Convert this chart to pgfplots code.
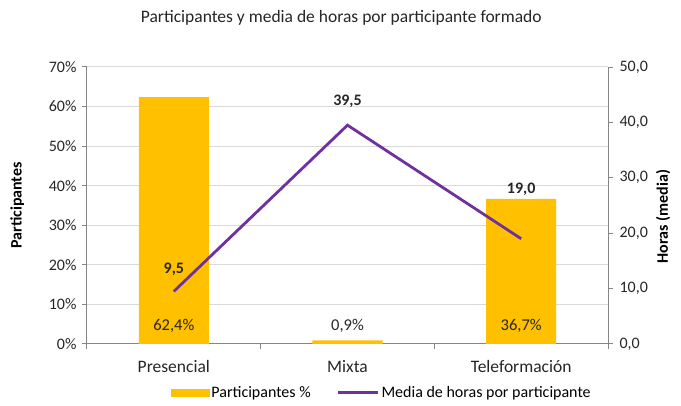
\documentclass[border=0pt]{standalone}
\usepackage{fontspec}
\setmainfont{Carlito}
\usepackage{pgfplots}
\pgfplotsset{compat=1.18}
\definecolor{barc}{RGB}{255,192,0}
\definecolor{linec}{RGB}{112,48,160}
\definecolor{axc}{RGB}{134,134,134}
\definecolor{gridc}{RGB}{217,217,217}
\begin{document}
\begin{tikzpicture}
\useasboundingbox (-87pt,-62pt) rectangle (594pt,344pt);
% left axis: participantes (%)
\begin{axis}[
    name=left,
    scale only axis, width=521pt, height=277pt,
    xmin=-0.5, xmax=2.5, ymin=0, ymax=70,
    axis x line*=bottom, axis y line*=left,
    axis line style={axc, line width=1pt},
    xtick={0,1,2}, xticklabels={Presencial,Mixta,Teleformación},
    major x tick style={draw=none},
    minor xtick={-0.5,0.5,1.5,2.5},
    minor x tick style={axc, line width=1pt},
    minor tick length=5pt,
    ytick={0,10,...,70},
    y tick style={axc, line width=1pt},
    major tick length=5pt,
    tick align=outside,
    ymajorgrids, grid style={gridc, line width=1pt},
    /pgf/number format/assume math mode=true,
    yticklabel={\pgfmathprintnumber{\tick}\%},
    yticklabel style={font=\fontsize{16}{17}\selectfont, text=black!85, xshift=-2pt},
    xticklabel style={font=\fontsize{17.5}{18}\selectfont, text=black!85, yshift=-8pt},
    ylabel={\textbf{Participantes}},
    ylabel style={at={(axis description cs:-0.134,0.5)}, anchor=center, rotate=0, font=\fontsize{16}{17}\selectfont},
    clip=false,
]
\addplot[ybar, bar width=70pt, fill=barc, draw=none] coordinates {(0,62.4) (1,0.9) (2,36.7)};
\node[font=\fontsize{16.5}{17}\selectfont, text=black!85] at (axis cs:0,4.5) {62,4\%};
\node[font=\fontsize{16.5}{17}\selectfont, text=black!85] at (axis cs:1,4.5) {0,9\%};
\node[font=\fontsize{16.5}{17}\selectfont, text=black!85] at (axis cs:2,4.5) {36,7\%};
\node[font=\fontsize{17.5}{18}\selectfont, text=black!85] at (axis description cs:0.488,1.177) {Participantes y media de horas por participante formado};
\end{axis}
% right axis: horas (media)
\begin{axis}[
    scale only axis, width=521pt, height=277pt,
    xmin=-0.5, xmax=2.5, ymin=0, ymax=50,
    axis x line=none, axis y line*=right,
    axis line style={axc, line width=1pt},
    ytick={0,10,...,50},
    y tick style={axc, line width=1pt},
    major tick length=5pt,
    tick align=outside,
    /pgf/number format/assume math mode=true,
    yticklabel style={font=\fontsize{16}{17}\selectfont, text=black!85, xshift=3pt,
      /pgf/number format/.cd, fixed, fixed zerofill, precision=1, use comma},
    ylabel={\textbf{Horas (media)}},
    ylabel style={at={(axis description cs:1.106,0.46)}, anchor=center, rotate=0, font=\fontsize{16}{17}\selectfont},
    clip=false,
    legend columns=2,
    legend style={at={(0.566,-0.176)}, anchor=center, draw=none, fill=none,
      font=\fontsize{16}{17}\selectfont, /tikz/every even column/.append style={column sep=24pt}},
]
\addlegendimage{legend image code/.code={\fill[barc] (0pt,-3.5pt) rectangle (38pt,3.5pt);}}
\addlegendentry{Participantes \%}
\addplot[linec, line width=2.8pt, mark=none, legend image code/.code={\draw[linec, line width=2.8pt] (0pt,0pt) -- (40pt,0pt);}]
  coordinates {(0,9.5) (1,39.5) (2,19.0)};
\addlegendentry{Media de horas por participante}
\node[font=\bfseries\fontsize{16}{17}\selectfont, text=black!85] at (axis cs:0,13.4) {9,5};
\node[font=\bfseries\fontsize{16}{17}\selectfont, text=black!85] at (axis cs:1,43.8) {39,5};
\node[font=\bfseries\fontsize{16}{17}\selectfont, text=black!85] at (axis cs:2,28.0) {19,0};
\end{axis}
\end{tikzpicture}
\end{document}
